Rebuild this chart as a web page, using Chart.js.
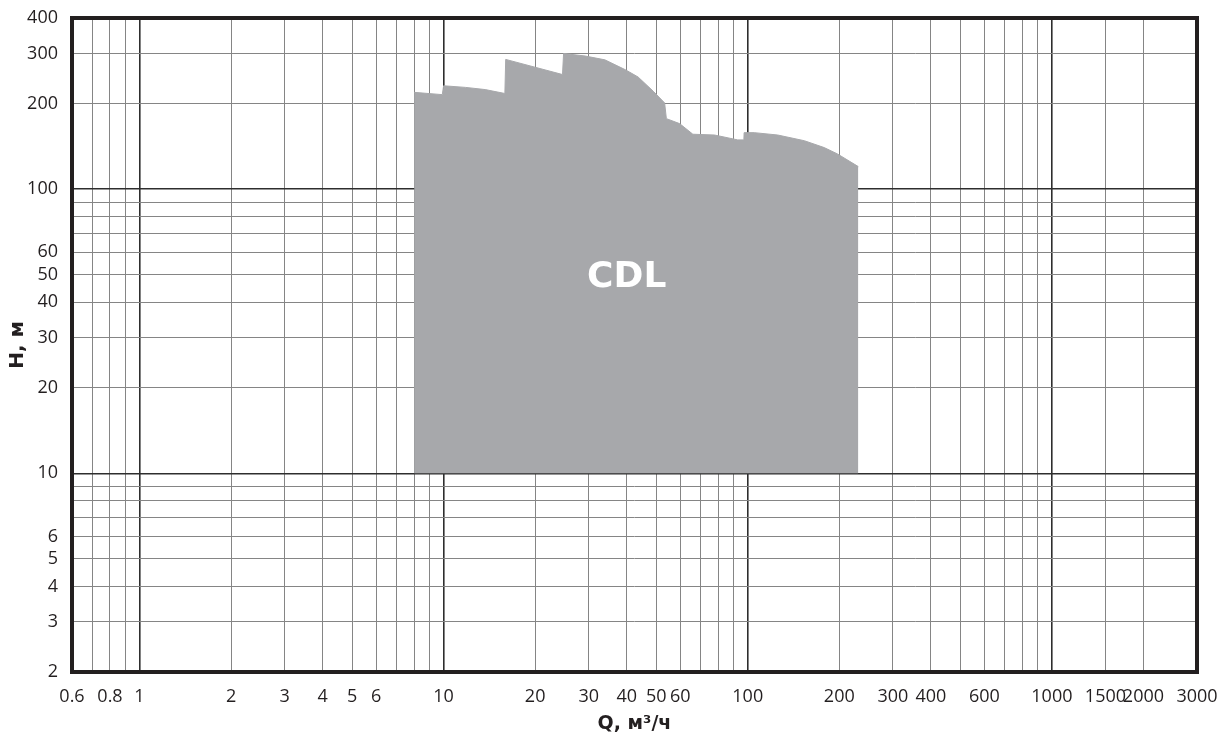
<!DOCTYPE html>
<html>
<head>
<meta charset="utf-8">
<script src="https://cdn.jsdelivr.net/npm/chart.js@4/dist/chart.umd.min.js"></script>
<style>
  html, body { margin: 0; padding: 0; background: #ffffff; }
  #wrap { width: 1221px; height: 735px; position: relative; }
</style>
</head>
<body>
<div id="wrap"><canvas id="c"></canvas></div>
<script>
// ---- data ----
const flowQ = [8.0, 9.9, 10.0, 11.8, 13.7, 15.9, 16.0, 24.6, 24.8, 29.2, 33.9, 39.6, 43.6, 48.9, 53.3, 54.0, 59.7, 66.0, 77.8, 92.7, 97.1, 97.3, 105, 125.5, 153.5, 178.4, 197.2, 231];
const headH = [219, 215, 231, 228, 224, 217, 286, 253, 300, 294, 285, 263, 248, 221, 201, 177, 170, 156, 155, 149, 149, 158, 158, 155, 148, 140, 133, 120];
const baseHead = 10;
const seriesName = 'CDL';
const seriesLabelQ = 40;
const seriesLabelH = 49;

const xGrid = [0.6, 0.7, 0.8, 0.9, 1, 2, 3, 4, 5, 6, 7, 8, 9, 10, 20, 30, 40, 50, 60, 70, 80, 90, 100, 200, 300, 400, 500, 600, 700, 800, 900, 1000, 1500, 2000, 3000];
const xLabels = [0.6, 0.8, 1, 2, 3, 4, 5, 6, 10, 20, 30, 40, 50, 60, 100, 200, 300, 400, 600, 1000, 1500, 2000, 3000];
const yGrid = [2, 3, 4, 5, 6, 7, 8, 9, 10, 20, 30, 40, 50, 60, 70, 80, 90, 100, 200, 300, 400];
const yLabels = [2, 3, 4, 5, 6, 10, 20, 30, 40, 50, 60, 100, 200, 300, 400];
const majorX = [1, 10, 100, 1000];
const majorY = [10, 100];

const points = flowQ.map((q, i) => ({ x: q, y: headH[i] }));

const frame = {
  id: 'frame',
  afterDraw(chart) {
    const { ctx, chartArea: a } = chart;
    ctx.save();
    ctx.lineWidth = 4;
    ctx.strokeStyle = '#231f20';
    ctx.strokeRect(a.left, a.top, a.right - a.left, a.bottom - a.top);
    ctx.restore();
  }
};

const seriesText = {
  id: 'seriesText',
  afterDatasetsDraw(chart) {
    const { ctx, scales } = chart;
    ctx.save();
    ctx.fillStyle = '#ffffff';
    ctx.font = 'bold 36px "DejaVu Sans"';
    ctx.textAlign = 'center';
    ctx.textBaseline = 'middle';
    ctx.fillText(seriesName, scales.x.getPixelForValue(seriesLabelQ), scales.y.getPixelForValue(seriesLabelH));
    ctx.restore();
  }
};

const gridColor = majors => c => majors.includes(c.tick && c.tick.value) ? '#2e2e2e' : '#858585';
const gridWidth = majors => c => majors.includes(c.tick && c.tick.value) ? 1.6 : 1;

new Chart(document.getElementById('c'), {
  type: 'line',
  data: {
    datasets: [{
      label: seriesName,
      data: points,
      borderColor: '#a7a8ab',
      borderWidth: 1,
      backgroundColor: '#a7a8ab',
      fill: { value: baseHead },
      pointRadius: 0,
      tension: 0
    }]
  },
  options: {
    responsive: true,
    maintainAspectRatio: false,
    animation: false,
    layout: { padding: { left: 0, right: 24, top: 18, bottom: 0 } },
    plugins: { legend: { display: false }, tooltip: { enabled: false } },
    scales: {
      x: {
        type: 'logarithmic',
        position: 'bottom',
        min: 0.6,
        max: 3000,
        z: 1,
        afterBuildTicks: s => { s.ticks = xGrid.map(v => ({ value: v })); },
        afterFit: s => { s.height = 63; },
        grid: {
          drawTicks: true,
          tickLength: 12,
          tickColor: 'rgba(0,0,0,0)',
          color: gridColor(majorX),
          lineWidth: gridWidth(majorX)
        },
        border: { display: false },
        ticks: {
          autoSkip: false,
          maxRotation: 0,
          padding: 2,
          color: '#231f20',
          font: { family: '"Open Sans"', size: 18 },
          callback: v => xLabels.includes(v) ? String(v) : ''
        },
        title: {
          display: true,
          text: 'Q, м³/ч',
          color: '#231f20',
          font: { family: '"DejaVu Sans"', size: 19, weight: 'bold' },
          padding: { top: 0, bottom: 0 }
        }
      },
      y: {
        type: 'logarithmic',
        position: 'left',
        min: 2,
        max: 400,
        z: 1,
        afterBuildTicks: s => { s.ticks = yGrid.map(v => ({ value: v })); },
        afterFit: s => { s.width = 72; },
        grid: {
          drawTicks: true,
          tickLength: 12,
          tickColor: 'rgba(0,0,0,0)',
          color: gridColor(majorY),
          lineWidth: gridWidth(majorY)
        },
        border: { display: false },
        ticks: {
          autoSkip: false,
          padding: 2,
          color: '#231f20',
          font: { family: '"Open Sans"', size: 18 },
          callback: v => yLabels.includes(v) ? String(v) : ''
        },
        title: {
          display: true,
          text: 'H, м',
          color: '#231f20',
          font: { family: '"DejaVu Sans"', size: 20, weight: 'bold' },
          padding: { top: 6, bottom: 0 }
        }
      }
    }
  },
  plugins: [frame, seriesText]
});
</script>
</body>
</html>
